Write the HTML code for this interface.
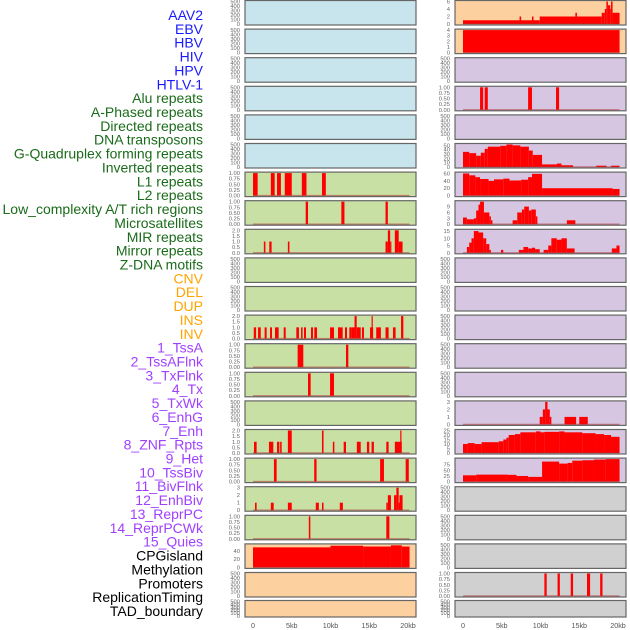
<!DOCTYPE html>
<html><head><meta charset="utf-8"><style>
html,body{margin:0;padding:0;background:#fff;}
svg{display:block;font-family:"Liberation Sans",sans-serif;}
</style></head><body>
<svg id="chart" width="630" height="630" viewBox="0 0 630 630" xmlns="http://www.w3.org/2000/svg">
<g id="labels"></g>
<g id="panels"></g>
</svg>
<script>
// ---- labels ----
const labelNames = ["AAV2","EBV","HBV","HIV","HPV","HTLV-1","Alu repeats","A-Phased repeats","Directed repeats","DNA transposons","G-Quadruplex forming repeats","Inverted repeats","L1 repeats","L2 repeats","Low_complexity A/T rich regions","Microsatellites","MIR repeats","Mirror repeats","Z-DNA motifs","CNV","DEL","DUP","INS","INV","1_TssA","2_TssAFlnk","3_TxFlnk","4_Tx","5_TxWk","6_EnhG","7_Enh","8_ZNF_Rpts","9_Het","10_TssBiv","11_BivFlnk","12_EnhBiv","13_ReprPC","14_ReprPCWk","15_Quies","CPGisland","Methylation","Promoters","ReplicationTiming","TAD_boundary"];
const labelGroups = [6,13,5,15,5];
const groupColors = ["#1a1aff","#1a6b1a","#ffa500","#a040ff","#000000"];

// ---- x axis ----
const xTicks = [0,5,10,15,20];
const xTickLabels = ["0","5kb","10kb","15kb","20kb"];

// ---- panel backgrounds per row ----
const leftBg  = ["b","b","b","b","b","b","g","g","g","g","g","g","g","g","g","g","g","g","g","p","p","p"];
const rightBg = ["p","p","l","l","l","l","l","l","l","l","l","l","l","l","l","l","l","y","y","y","y","y"];

// ---- series data: [startKb, endKb, value] ----
const aav2Right = [[0,9.9,1],[7.3,7.5,2],[8.9,9.1,2],[9.9,17.9,2],[14.5,14.7,3],[17.9,18.3,3],[18.3,18.5,4],[18.5,18.7,6],[18.7,19.0,5],[19.0,19.1,4],[19.1,19.3,6],[19.3,20.2,3]];
const ebvRight = [[0,20.2,4]];
const row4Right = [[2.2,2.6,1],[2.8,3.2,1],[8.4,8.9,1],[12.0,12.4,1]];
const row6Right = [[0,0.8,35],[0.8,1.7,32],[1.7,2.3,26],[2.3,2.8,33],[2.8,3.2,42],[3.2,4.8,47],[4.8,5.6,49],[5.6,6.4,52],[6.4,7.4,50],[7.4,8.5,47],[8.5,9.0,38],[9.0,10.2,28],[10.2,12.1,6],[12.1,12.7,8],[12.7,14.2,4],[17.2,18.5,3],[19.1,20.2,3]];
const row7Right = [[0,0.8,60],[0.8,1.6,55],[1.6,2.2,50],[2.2,3.3,45],[3.3,4.0,40],[4.0,5.2,44],[5.2,6.0,46],[6.0,7.5,41],[7.5,8.4,43],[8.4,8.9,50],[8.9,10.2,59],[10.2,19.3,20],[19.3,20.2,18]];
const row8Right = [[0,0.5,3.4],[0.5,1.4,2.5],[1.4,1.7,3],[1.7,2.0,7],[2.0,2.2,10],[2.2,2.7,11.5],[2.7,3.4,6],[3.4,3.6,4],[3.6,3.8,2],[6.4,7.0,2],[7.0,7.6,6],[7.6,7.9,7.5],[7.9,8.5,9],[8.5,8.8,7],[8.8,9.4,7.5],[9.4,9.6,4],[13.4,14.5,2]];
const row9Right = [[0.5,0.8,4],[0.8,1.1,7],[1.1,1.4,10],[1.4,2.0,15],[2.0,2.6,14],[2.6,3.0,10],[3.0,3.4,6],[3.4,3.6,2],[4.9,5.2,2],[7.2,7.8,2],[7.8,8.4,4],[8.4,8.9,3],[8.9,9.3,3.5],[9.3,9.9,2.5],[10.4,11.0,2],[11.0,11.4,5],[11.4,12.1,10],[12.1,12.7,9],[12.7,13.4,10],[13.4,14.4,3],[19.2,19.8,3],[19.8,20.2,5]];
const row15Right = [[9.9,10.3,1],[10.3,10.6,2],[10.6,10.9,3],[10.9,11.2,2],[11.2,11.4,1],[13.1,14.6,1],[15.0,16.1,1]];
const row16Right = [[0,0.6,10],[0.6,1.5,11],[1.5,2.4,10],[2.4,4.6,12],[4.6,5.2,13],[5.2,5.6,15],[5.6,5.9,17],[5.9,6.7,20],[6.7,7.4,21],[7.4,9.4,23],[9.4,10.0,24],[10.0,10.5,23],[10.5,12.4,23.5],[12.4,13.1,24],[13.1,15.4,23],[15.4,17.1,22],[17.1,18.2,21],[18.2,19.1,20],[19.1,20.2,18]];
const row17Right = [[0,1.7,28],[1.7,5.8,31],[5.8,6.9,30],[6.9,8.4,25],[8.4,10.2,21],[10.2,12.4,89],[12.4,13.5,80],[13.5,14.1,83],[14.1,15.4,93],[15.4,16.9,95],[16.9,18.4,98],[18.4,20.2,100]];
const row21Right = [[10.5,10.8,1],[12.2,12.5,1],[13.9,14.2,1],[16.0,16.4,1],[17.7,18.0,1]];

const row7Left = [[0,0.6,1],[2.3,2.8,1],[3.1,3.6,1],[4.1,5.0,1],[6.3,6.9,1],[8.9,9.4,1]];
const row8Left = [[6.8,7.1,1],[11.4,11.8,1],[17.1,17.4,1]];
const row9Left = [[1.4,1.6,1],[2.1,2.4,1],[4.5,4.7,1],[17.1,17.4,1],[17.4,17.7,2],[17.7,17.8,1],[18.3,18.8,2],[18.8,19.3,1]];
const row12Left = [[0.1,0.4,1],[0.65,1.0,1],[1.5,1.76,1],[2.2,2.45,1],[2.84,3.31,1],[3.96,4.22,1],[5.59,5.93,1],[6.2,6.4,1],[6.58,6.84,1],[7.48,7.74,1],[7.91,8.26,1],[9.94,10.45,1],[10.97,11.57,1],[11.87,12.13,1],[12.43,12.73,1],[12.73,13.1,1],[13.1,13.38,2],[13.38,13.9,1],[14.06,14.32,1],[15.1,15.5,1],[15.3,15.4,2],[15.9,16.5,1],[17.1,17.5,1],[18.06,18.4,1],[19.1,19.4,2]];
const row13Left = [[5.76,6.49,1],[12.0,12.3,1]];
const row14Left = [[7.1,7.44,1],[9.94,10.45,1]];
const row16Left = [[0.13,0.47,1],[2.06,2.62,1],[3.1,3.4,1],[3.5,3.7,1],[4.5,5.0,2],[8.9,9.1,2],[10.3,10.5,1],[11.7,12.0,1],[13.4,13.9,1],[14.7,15.0,1],[15.3,15.6,1],[17.2,17.5,1],[18.3,19.2,1],[19.0,19.1,2]];
const row17Left = [[2.7,3.05,1],[7.9,8.2,1],[16.4,16.9,1],[19.7,20.1,1]];
const row18Left = [[0.26,0.47,1],[2.3,2.67,1],[4.5,5.0,1],[8.1,8.5,1],[8.9,9.1,1],[11.2,11.6,1],[17.2,17.4,1],[17.4,17.8,2],[18.2,18.5,2],[18.5,18.8,3],[18.8,18.9,1],[18.9,19.3,2]];
const row19Left = [[7.2,7.4,1],[17.2,17.6,1]];
const row20Left = [[0,10.0,49],[10.0,14.2,53],[14.2,17.8,51],[17.8,19.2,54],[19.2,20.2,51]];

// ---- y tick label sets ----
const ticksEmpty = ["0","100","200","300","400","500"];
const ticksUnit = ["0.00","0.25","0.50","0.75","1.00"];
const ticksTwo = ["0.0","0.5","1.0","1.5","2.0"];

// ---- panel definitions: [row, side, series, yMax, tickValues, tickLabels, name] ----
const panelDefs = [
 [0,"R",aav2Right,6,[0,2,4,6],["0","2","4","6"],"aav2-right"],
 [1,"R",ebvRight,4,[0,1,2,3,4],["0","1","2","3","4"],"ebv-right"],
 [3,"R",row4Right,1,[0,0.25,0.5,0.75,1],ticksUnit,"row4-right"],
 [5,"R",row6Right,52,[0,10,20,30,40,50],["0","10","20","30","40","50"],"row6-right"],
 [6,"R",row7Right,61,[0,20,40,60],["0","20","40","60"],"row7-right"],
 [7,"R",row8Right,11.5,[0,3,6,9],["0","3","6","9"],"row8-right"],
 [8,"R",row9Right,15.5,[0,5,10,15],["0","5","10","15"],"row9-right"],
 [14,"R",row15Right,3,[0,1,2,3],["0","1","2","3"],"row15-right"],
 [15,"R",row16Right,25,[0,5,10,15,20,25],["0","5","10","15","20","25"],"row16-right"],
 [16,"R",row17Right,100,[0,25,50,75],["0","25","50","75"],"row17-right"],
 [20,"R",row21Right,1,[0,0.25,0.5,0.75,1],ticksUnit,"row21-right"],
 [6,"L",row7Left,1,[0,0.25,0.5,0.75,1],ticksUnit,"row7-left"],
 [7,"L",row8Left,1,[0,0.25,0.5,0.75,1],ticksUnit,"row8-left"],
 [8,"L",row9Left,2,[0,0.5,1,1.5,2],ticksTwo,"row9-left"],
 [11,"L",row12Left,2,[0,0.5,1,1.5,2],ticksTwo,"row12-left"],
 [12,"L",row13Left,1,[0,0.25,0.5,0.75,1],ticksUnit,"row13-left"],
 [13,"L",row14Left,1,[0,0.25,0.5,0.75,1],ticksUnit,"row14-left"],
 [15,"L",row16Left,2,[0,0.5,1,1.5,2],ticksTwo,"row16-left"],
 [16,"L",row17Left,1,[0,0.25,0.5,0.75,1],ticksUnit,"row17-left"],
 [17,"L",row18Left,3,[0,1,2,3],["0","1","2","3"],"row18-left"],
 [18,"L",row19Left,1,[0,0.25,0.5,0.75,1],ticksUnit,"row19-left"],
 [19,"L",row20Left,55,[0,20,40],["0","20","40"],"row20-left"]
];

const NS = "http://www.w3.org/2000/svg";
const bgColors = {b:"#c8e4ec",g:"#c8e0a4",p:"#fdd0a0",l:"#d6c6e2",y:"#d0d0d0"};
function mk(tag, attrs, parent){const e=document.createElementNS(NS,tag);for(const k in attrs)e.setAttribute(k,attrs[k]);parent.appendChild(e);return e;}
function xScale(side,kb){return (side==="L"?253:463)+kb*7.75;}
function rowTop(r){return r===21?600.5:r*28.6+0.5;}
function rowH(r){return r===21?16.5:24.5;}
function yScale(r,v,max){const t=rowTop(r),h=rowH(r);return t+h-1-(v/max)*(h-2);}

// labels
const lg=document.getElementById("labels");
let idx=0;
labelGroups.forEach((n,g)=>{for(let i=0;i<n;i++){
  const t=mk("text",{x:203,y:15+idx*13.86+5,"text-anchor":"end","font-size":"14",fill:groupColors[g]},lg);
  t.textContent=labelNames[idx];
  
  
  idx++;
}});

const pg=document.getElementById("panels");
const defined={};
panelDefs.forEach(d=>{defined[d[0]+d[1]]=d;});

function drawTicks(side,r,vals,labs,max){
  const tx=side==="L"?240:450;
  vals.forEach((v,i)=>{
    const t=mk("text",{x:tx,y:yScale(r,v,max)+2,"text-anchor":"end","font-size":"5.8",fill:"#666"},pg);
    t.textContent=labs[i];
    
    
  });
}

for(let r=0;r<22;r++){
  ["L","R"].forEach(side=>{
    const px=side==="L"?245:455;
    const bg=side==="L"?leftBg[r]:rightBg[r];
    const rect=mk("rect",{x:px,y:rowTop(r),width:171,height:rowH(r),fill:bgColors[bg]},pg);
    
    
    const d=defined[r+side];
    if(d){
      const max=d[3];
      d[2].forEach(s=>{
        const x0=xScale(side,s[0]),x1=xScale(side,s[1]);
        const y=yScale(r,s[2],max),yb=yScale(r,0,max);
        const b=mk("rect",{x:x0,y:y,width:Math.max(1.2,x1-x0),height:yb-y,fill:"#ff0000"},pg);
        
        
      });
      const bl=mk("line",{x1:xScale(side,0),x2:xScale(side,20.2),y1:yScale(r,0,max),y2:yScale(r,0,max),stroke:"#b03030","stroke-width":"1.4","stroke-opacity":"0.55"},pg);
      
      
      drawTicks(side,r,d[4],d[5],max);
    } else {
      drawTicks(side,r,[0,100,200,300,400,500],ticksEmpty,500);
    }
    const fr=mk("rect",{x:px,y:rowTop(r),width:171,height:rowH(r),fill:"none",stroke:"#666","stroke-width":"1.2"},pg);
    
    
  });
}

// x axis labels
["L","R"].forEach(side=>{
  xTicks.forEach((k,i)=>{
    const t=mk("text",{x:xScale(side,k),y:628,"text-anchor":"middle","font-size":"7.2",fill:"#555"},pg);
    t.textContent=xTickLabels[i];
    
    
  });
});
</script>
</body></html>
